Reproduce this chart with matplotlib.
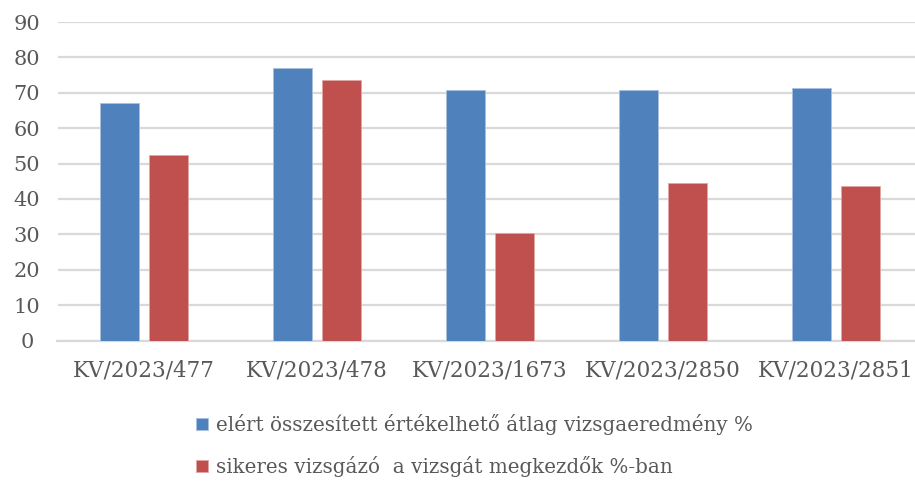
import numpy as np
import matplotlib.pyplot as plt

# data
categories = ["KV/2023/477", "KV/2023/478", "KV/2023/1673", "KV/2023/2850", "KV/2023/2851"]
avg_result = [67.0, 77.0, 70.7, 70.9, 71.3]
success_rate = [52.5, 73.6, 30.5, 44.4, 43.7]
series_names = ["elért összesített értékelhető átlag vizsgaeredmény %",
                "sikeres vizsgázó  a vizsgát megkezdők %-ban"]

blue = "#4F81BD"
red = "#C0504D"
grid_col = "#D9D9D9"
text_col = "#595959"

plt.rcParams['font.family'] = ['DejaVu Serif', 'Liberation Serif']

fig = plt.figure(figsize=(9.15, 4.82), dpi=100)
# plot area: x from 57.5px, one group = 173px; y from 22px (90) to 340.5px (0)
ax = fig.add_axes([57.5 / 915, 1 - 340.5 / 482, 865 / 915, (340.5 - 22) / 482])

x = np.arange(len(categories))
w = 39 / 173
gap = 10 / 173
ax.bar(x - (w + gap) / 2, avg_result, w, color=blue, edgecolor="#A9C0DE",
       linewidth=0.6, label=series_names[0], zorder=3)
ax.bar(x + (w + gap) / 2, success_rate, w, color=red, edgecolor="#E0A6A4",
       linewidth=0.6, label=series_names[1], zorder=3)

ax.set_xlim(-0.5, len(categories) - 0.5)
ax.set_ylim(0, 90)
ax.set_yticks(range(0, 91, 10))
ax.yaxis.grid(True, color=grid_col, linewidth=1.6, zorder=0)
ax.set_axisbelow(True)
for s in ["top", "right", "left"]:
    ax.spines[s].set_visible(False)
ax.spines["bottom"].set_color(grid_col)
ax.spines["bottom"].set_linewidth(1.6)

ax.set_xticks(x)
ax.set_xticklabels(categories)
ax.tick_params(axis="both", length=0, labelsize=15.5, colors=text_col)
ax.tick_params(axis="x", pad=14)
ax.tick_params(axis="y", labelsize=15, pad=22)
for lab in ax.get_yticklabels():
    lab.set_horizontalalignment("center")

leg = ax.legend(loc="upper left", bbox_to_anchor=(196 / 915, 1 - 414 / 482),
                bbox_transform=fig.transFigure, frameon=False, fontsize=14.3,
                handlelength=0.6, handleheight=0.6, handletextpad=0.4,
                labelspacing=1.05, borderpad=0, borderaxespad=0)
for t in leg.get_texts():
    t.set_color(text_col)

fig.savefig("out.png", dpi=100)
